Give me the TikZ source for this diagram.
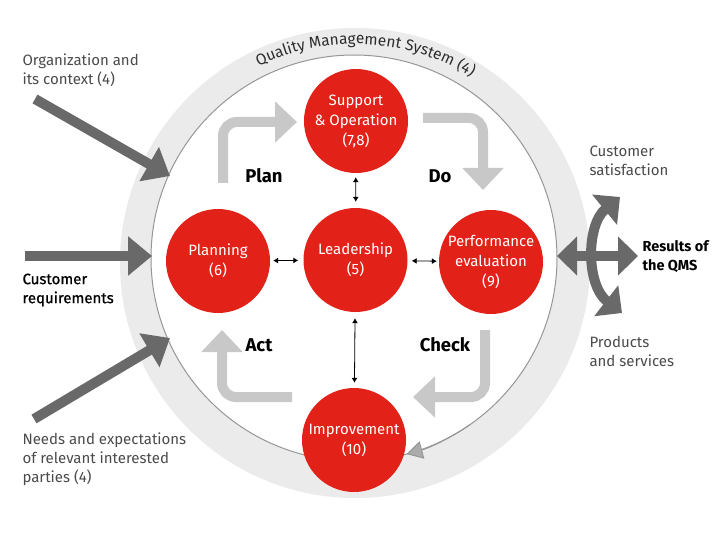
\documentclass[tikz,border=0pt]{standalone}
\usepackage{fontspec}
\setmainfont{Fira Sans}
\newfontfamily\medfont[FakeBold=0.8]{Fira Sans}
\usetikzlibrary{arrows.meta,decorations.text}
\definecolor{qred}{RGB}{226,34,24}
\definecolor{ringgray}{RGB}{235,235,235}
\definecolor{linegray}{RGB}{150,150,150}
\definecolor{pdcagray}{RGB}{200,200,200}
\definecolor{darkarrow}{RGB}{105,105,105}
\definecolor{txtgray}{RGB}{75,75,75}
\definecolor{txtdark}{RGB}{45,45,45}
\begin{document}
\begin{tikzpicture}[x=1pt,y=-1pt,
 proc/.style={circle, fill=qred, minimum size=104pt, inner sep=0pt, text=white, align=center, font=\fontsize{15}{20}\selectfont},
 pdca/.style={draw=pdcagray, line width=10pt, rounded corners=14pt, -{Triangle[length=22pt,width=40pt]}},
 inarrow/.style={draw=darkarrow, line width=10pt, -{Triangle[length=24pt,width=38pt]}},
 outarrow/.style={draw=darkarrow, line width=10pt, {Triangle[length=20pt,width=38pt]}-{Triangle[length=20pt,width=38pt]}},
 dbl/.style={draw=black, line width=0.8pt, {Latex[length=5pt,width=6pt]}-{Latex[length=5pt,width=6pt]}},
 lbl/.style={font=\bfseries\fontsize{18.5}{20}\selectfont, text=black},
 side/.style={align=left, anchor=west, text=txtgray, font=\fontsize{15}{19}\selectfont}
]
\useasboundingbox[fill=white] (0,0) rectangle (720,540);
% ring
\coordinate (oc) at (355,263);
\coordinate (ic) at (354,258);
\fill[ringgray] (oc) circle (235);
\draw[linegray, line width=1pt, fill=white] (ic) circle (203);
\draw[linegray, line width=1pt, -{Triangle[length=16pt,width=18pt,fill=linegray!80]}] (ic) ++(55:203) arc[start angle=55, end angle=75, radius=203];
\path[decorate, decoration={text along path, text align=center,
  text={|\fontsize{15.5}{16}\selectfont\color{txtdark}|Quality Management System (4)}}]
  (oc) ++(222:219) arc[start angle=222, end angle=324, radius=219];
% PDCA arrows
\draw[pdca] (223,183) |- (297,122);
\draw[pdca] (423,118) -| (483,190);
\draw[pdca] (485,330) |- (413,397);
\draw[pdca] (292,397) -| (222,330);
% process circles
\node[proc] (sup) at (356,121) {Support\\\& Operation\\(7,8)};
\node[proc] (lead) at (355.5,260) {Leadership\\(5)};
\node[proc] (plan) at (218,261) {Planning\\(6)};
\node[proc] (perf) at (491,262) {Performance\\evaluation\\(9)};
\node[proc] (imp) at (354,440) {Improvement\\(10)};
% leadership links
\draw[dbl, shorten <=4pt, shorten >=6pt] (sup) -- (lead);
\draw[dbl, shorten <=3pt, shorten >=5pt] (plan) -- (lead);
\draw[dbl, shorten <=4pt, shorten >=2pt] (lead) -- (perf);
\draw[dbl, shorten <=6pt, shorten >=5pt] (lead) -- (imp);
% PDCA labels
\node[lbl] (lplan) at (264,176) {Plan};
\node[lbl] (ldo) at (440,176) {Do};
\node[lbl] (lact) at (259,345) {Act};
\node[lbl] (lcheck) at (445,345) {Check};
% inputs
\node[side] (org) at (19,70) {Organization and\\its context (4)};
\node[side, text=black, font=\medfont\fontsize{15}{19}\selectfont] (creq) at (19,290) {Customer\\requirements};
\node[side] (needs) at (19,459) {Needs and expectations\\of relevant interested\\parties (4)};
\coordinate (a1s) at (35,99);
\coordinate (a1e) at (170,176);
\coordinate (a2s) at (25,256);
\coordinate (a2e) at (152,256);
\coordinate (a3s) at (34,419);
\coordinate (a3e) at (170,338);
\draw[inarrow] (a1s) -- (a1e);
\draw[inarrow] (a2s) -- (a2e);
\draw[inarrow] (a3s) -- (a3e);
% outputs
\node[side] (csat) at (586,161) {Customer\\satisfaction};
\node[side, text=black, font=\bfseries\fontsize{14.5}{19}\selectfont] (res) at (639,257) {Results of\\the QMS};
\node[side] (prod) at (586,351) {Products\\and services};
\coordinate (ol) at (557,256);
\coordinate (or) at (638,256);
\coordinate (ct) at (620,197);
\coordinate (cb) at (622,313);
\draw[outarrow] (ol) -- (or);
\draw[outarrow] (ct) .. controls (586,225) and (586,285) .. (cb);
\end{tikzpicture}
\end{document}
